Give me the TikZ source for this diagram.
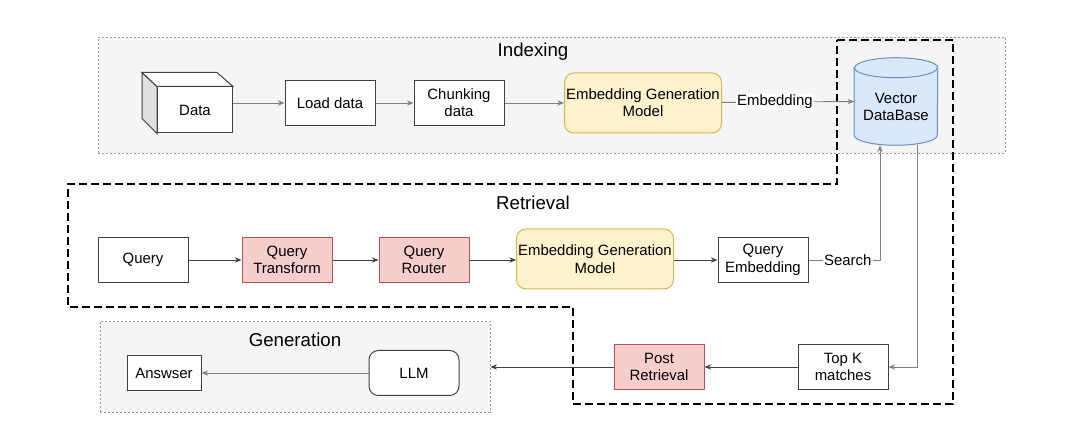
\documentclass[tikz,border=0pt]{standalone}
\usepackage{fontspec}
\setmainfont{Liberation Sans}
\usetikzlibrary{arrows.meta}
\definecolor{regionfill}{HTML}{F5F5F5}
\definecolor{embfill}{HTML}{FFF2CC}
\definecolor{embdraw}{HTML}{D6B656}
\definecolor{redfill}{HTML}{F8CECC}
\definecolor{reddraw}{HTML}{B85450}
\definecolor{dbfill}{HTML}{DAE8FC}
\definecolor{dbdraw}{HTML}{6C8EBF}
\begin{document}
\begin{tikzpicture}[
    x=0.75pt, y=-0.75pt,
    font=\fontsize{11.2}{13}\selectfont,
    region/.style={draw=black!40, fill=regionfill, dash pattern=on 1.5pt off 1.5pt, line width=0.6pt},
    title/.style={font=\fontsize{14}{16}\selectfont},
    box/.style={draw=black!75, fill=white, line width=0.75pt, align=center, minimum width=67.5pt, minimum height=33.75pt, inner sep=1pt},
    model/.style={box, draw=embdraw, fill=embfill, rounded corners=7pt, minimum width=117.75pt, minimum height=45pt},
    redbox/.style={box, draw=reddraw, fill=redfill},
    arr/.style={-{Stealth[length=5pt,width=4pt]}, draw=black!50, line width=0.7pt},
    darr/.style={arr, draw=black!75, line width=0.6pt},
    stage/.style={draw=black, line width=1.6pt, dash pattern=on 6pt off 3pt}
  ]
    \useasboundingbox (0,0) rectangle (1067,448);

    \node[region, minimum width=680.25pt, minimum height=87pt] (indexing) at (551.5,95) {};
    \node[region, minimum width=292.5pt, minimum height=68.25pt] (generation) at (295,366.5) {};

    \draw[stage] (837,40) -- (953,40) -- (953,404) -- (573,404) -- (573,307)
      -- (68,307) -- (68,184) -- (837,184) -- cycle;

    \node[title] at (533,52) {Indexing};
    \node[title] at (533,203) {Retrieval};
    \node[title] at (295,340) {Generation};

    % indexing
    \node[box, minimum width=56.25pt, minimum height=34.5pt] (data) at (195,110) {Data};
    \draw[draw=black!75, fill=black!12, line width=0.75pt] (data.north west) -- ++(-15,-14) -- ++(0,46) -- (data.south west) -- cycle;
    \draw[draw=black!75, fill=white, line width=0.75pt] (data.north west) -- ++(-15,-14) -- ++(75,0) -- (data.north east) -- cycle;
    \node[box] (load) at (330,103) {Load data};
    \node[box] (chunk) at (459,103) {Chunking\\data};
    \node[model] (embidx) at (643,103) {Embedding Generation\\Model};
    \node[minimum width=62.25pt, minimum height=65.25pt, inner sep=0pt] (vdb) at (896,101.5) {};
    \draw[draw=dbdraw, fill=dbfill, line width=0.75pt]
      ([yshift=-7.5pt]vdb.north west) -- ([yshift=7.5pt]vdb.south west)
      arc[start angle=180, end angle=360, x radius=31.125pt, y radius=7.5pt]
      -- ([yshift=-7.5pt]vdb.north east)
      arc[start angle=0, end angle=180, x radius=31.125pt, y radius=7.5pt] -- cycle;
    \draw[draw=dbdraw, line width=0.75pt] ([yshift=-7.5pt]vdb.north west)
      arc[start angle=180, end angle=360, x radius=31.125pt, y radius=7.5pt];
    \node[align=center] at ([yshift=-4pt]vdb.center) {Vector\\DataBase};

    \draw[arr] (load.west -| data.east) -- (load.west);
    \draw[arr] (load) -- (chunk);
    \draw[arr] (chunk) -- (embidx);
    \draw[arr] (embidx) -- node[pos=0.4, fill=white, inner sep=1pt] {Embedding} (vdb.west);

    % retrieval
    \node[box] (query) at (143,260) {Query};
    \node[redbox] (qtrans) at (287,260) {Query\\Transform};
    \node[redbox] (qrouter) at (424,260) {Query\\Router};
    \node[model] (embret) at (595,259) {Embedding Generation\\Model};
    \node[box] (qemb) at (763,260) {Query\\Embedding};
    \coordinate (searchin) at ([xshift=-12pt]vdb.south);
    \coordinate (matchout) at ([xshift=15.75pt]vdb.south);

    \draw[darr] (query) -- (qtrans);
    \draw[darr] (qtrans) -- (qrouter);
    \draw[darr] (qrouter) -- (qtrans.east -| embret.west);
    \draw[darr] (qemb.west -| embret.east) -- (qemb.west);
    \draw[arr] (qemb.east) -- node[pos=0.55, fill=white, inner sep=1pt] {Search} (qemb.east -| searchin) -- (searchin);

    % generation
    \node[box] (topk) at (843,367) {Top K\\matches};
    \node[redbox] (post) at (659,367) {Post\\Retrieval};
    \node[box, rounded corners=7pt] (llm) at (414,373) {LLM};
    \node[box, minimum width=55.5pt, minimum height=26.25pt] (answer) at (164,373) {Answser};

    \draw[arr] (matchout) |- (topk.east);
    \draw[darr] (topk) -- (post);
    \draw[darr] (post.west) -- (post.west -| generation.east);
    \draw[arr] (llm) -- (answer);
\end{tikzpicture}
\end{document}
